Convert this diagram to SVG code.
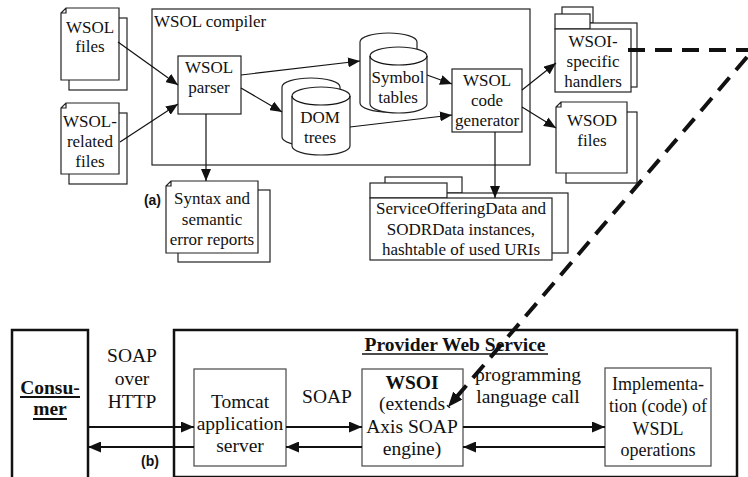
<svg xmlns="http://www.w3.org/2000/svg" width="748" height="477" viewBox="0 0 748 477">
<style>
.t{font-family:"Liberation Serif","DejaVu Serif","Times New Roman",serif;font-size:17px;fill:#111;text-anchor:middle}
.tb{font-family:"Liberation Serif","DejaVu Serif","Times New Roman",serif;font-size:19.5px;fill:#111;text-anchor:middle}
.bold{font-weight:bold}
.lab{font-family:"Liberation Sans",Arial,sans-serif;font-size:14px;font-weight:bold;fill:#111}
.sh{fill:#fff;stroke:#222;stroke-width:1.2}
.ln{fill:none;stroke:#111;stroke-width:1.2}
.lnb{fill:none;stroke:#111;stroke-width:1.8}
.thick{fill:none;stroke:#111;stroke-width:2.5}
.gbox{fill:#fff;stroke:#555;stroke-width:1.3}
</style>
<defs>
<marker id="ah" markerUnits="userSpaceOnUse" markerWidth="12" markerHeight="10" refX="12" refY="5" orient="auto"><path d="M0,0 L12,5 L0,10 Z" fill="#111"/></marker>
<marker id="ahb" markerUnits="userSpaceOnUse" markerWidth="13" markerHeight="11" refX="13" refY="5.5" orient="auto"><path d="M0,0 L13,5.5 L0,11 Z" fill="#111"/></marker>
<marker id="ahd" markerUnits="userSpaceOnUse" markerWidth="15" markerHeight="12" refX="15" refY="6" orient="auto"><path d="M0,0 L15,6 L0,12 Z" fill="#111"/></marker>
</defs>

<!-- (a) -->
<g id="compiler">
<rect x="152" y="9" width="378" height="156" class="sh"/>
<text x="154" y="27" class="t" style="text-anchor:start">WSOL compiler</text>
</g>

<g id="wsol-files">
<rect x="69" y="18" width="58" height="72" class="sh"/>
<path d="M66,8 L119,8 L119,80 L61,80 L61,13 Z M61,13 L66,13 L66,8" class="sh"/>
<text x="90" y="33" class="t">WSOL</text>
<text x="90" y="52" class="t">files</text>
</g>

<g id="wsol-related">
<rect x="69" y="113" width="58" height="71" class="sh"/>
<path d="M66,103 L119,103 L119,174 L61,174 L61,108 Z M61,108 L66,108 L66,103" class="sh"/>
<text x="90" y="127" class="t">WSOL-</text>
<text x="90" y="147" class="t">related</text>
<text x="90" y="167" class="t">files</text>
</g>

<g id="parser">
<rect x="178" y="56" width="63" height="58" class="sh"/>
<text x="209" y="73" class="t">WSOL</text>
<text x="209" y="93" class="t">parser</text>
</g>

<g id="symbol-tables">
<path d="M360,42 A28.5,9 0 0 1 417,42 L417,103 A28.5,9 0 0 1 360,103 Z" class="sh"/>
<path d="M370,56 A28.5,9 0 0 1 427,56 L427,104 A28.5,9 0 0 1 370,104 Z" class="sh"/>
<path d="M370,56 A28.5,9 0 0 0 427,56" class="ln"/>
<text x="398" y="83" class="t">Symbol</text>
<text x="398" y="103" class="t">tables</text>
</g>

<g id="dom-trees">
<path d="M282,87 A29,9 0 0 1 340,87 L340,137 A29,9 0 0 1 282,137 Z" class="sh"/>
<path d="M292,96 A29,9 0 0 1 350,96 L350,146 A29,9 0 0 1 292,146 Z" class="sh"/>
<path d="M292,96 A29,9 0 0 0 350,96" class="ln"/>
<text x="320" y="123" class="t">DOM</text>
<text x="320" y="143" class="t">trees</text>
</g>

<g id="codegen">
<rect x="452" y="69" width="70" height="63" class="sh"/>
<text x="487" y="86" class="t">WSOL</text>
<text x="487" y="106" class="t">code</text>
<text x="487" y="126" class="t">generator</text>
</g>

<g id="handlers">
<rect x="562" y="7" width="31" height="16" class="sh"/>
<rect x="562" y="23" width="75" height="64" class="sh"/>
<rect x="555" y="14" width="35" height="15" class="sh"/>
<rect x="555" y="29" width="76" height="63" class="sh"/>
<text x="593" y="47" class="t">WSOI-</text>
<text x="593" y="67" class="t">specific</text>
<text x="593" y="87" class="t">handlers</text>
</g>

<g id="wsod-files">
<rect x="566" y="112" width="71" height="71" class="sh"/>
<path d="M561,102 L627,102 L627,173 L556,173 L556,107 Z M556,107 L561,107 L561,102" class="sh"/>
<text x="592" y="126" class="t">WSOD</text>
<text x="592" y="146" class="t">files</text>
</g>

<g id="syntax-reports">
<rect x="178" y="190" width="92" height="72" class="sh"/>
<path d="M171,181 L258,181 L258,253 L166,253 L166,186 Z M166,186 L171,186 L171,181" class="sh"/>
<text x="212" y="204" class="t">Syntax and</text>
<text x="212" y="225" class="t">semantic</text>
<text x="212" y="245" class="t">error reports</text>
</g>

<g id="service-data">
<rect x="385" y="177" width="77" height="16" class="sh"/>
<rect x="385" y="193" width="183" height="60" class="sh"/>
<rect x="370" y="183" width="77" height="15" class="sh"/>
<rect x="370" y="198" width="182" height="62" class="sh"/>
<text x="461" y="214" class="t">ServiceOfferingData and</text>
<text x="461" y="235" class="t">SODRData instances,</text>
<text x="461" y="255" class="t">hashtable of used URIs</text>
</g>

<text x="161" y="205" class="lab" style="text-anchor:end">(a)</text>

<!-- (b) -->
<g id="consumer">
<rect x="12" y="330" width="76" height="150" class="thick"/>
<text x="50" y="394" class="tb bold">Consu-</text>
<line x1="20" y1="397" x2="80" y2="397" stroke="#111" stroke-width="1.8"/>
<text x="50" y="415" class="tb bold">mer</text>
<line x1="33" y1="419" x2="67" y2="419" stroke="#111" stroke-width="1.8"/>
</g>

<g id="provider">
<rect x="174" y="330" width="563" height="147" class="thick"/>
<text x="455" y="351" class="tb bold">Provider Web Service</text>
<line x1="362" y1="354" x2="548" y2="354" stroke="#111" stroke-width="1.6"/>
</g>

<g id="tomcat">
<rect x="194" y="369" width="92" height="97" class="gbox"/>
<text x="240" y="408" class="tb">Tomcat</text>
<text x="240" y="430" class="tb">application</text>
<text x="240" y="452" class="tb">server</text>
</g>

<g id="wsoi">
<rect x="362" y="369" width="101" height="97" class="gbox"/>
<text x="412" y="389" class="tb bold">WSOI</text>
<text x="412" y="410" class="tb">(extends</text>
<text x="412" y="433" class="tb">Axis SOAP</text>
<text x="412" y="455" class="tb">engine)</text>
</g>

<g id="implementation">
<rect x="605" y="368" width="106" height="98" class="gbox"/>
<text x="658" y="390" class="tb" style="font-size:18px">Implementa-</text>
<text x="658" y="412" class="tb" style="font-size:18px">tion (code) of</text>
<text x="658" y="435" class="tb" style="font-size:18px">WSDL</text>
<text x="658" y="456" class="tb" style="font-size:18px">operations</text>
</g>

<g id="labels-b">
<text x="132" y="362" class="tb">SOAP</text>
<text x="132" y="385" class="tb">over</text>
<text x="132" y="408" class="tb">HTTP</text>
<text x="327" y="403" class="tb">SOAP</text>
<text x="528" y="381" class="tb">programming</text>
<text x="528" y="403" class="tb">language call</text>
<text x="150" y="466" class="lab" style="text-anchor:middle">(b)</text>
</g>

<g id="connectors">
<line x1="118" y1="42" x2="178" y2="85" class="ln" marker-end="url(#ah)"/>
<line x1="120" y1="142" x2="178" y2="104" class="ln" marker-end="url(#ah)"/>
<line x1="206" y1="114" x2="206" y2="181" class="ln" marker-end="url(#ah)"/>
<line x1="241" y1="75" x2="360" y2="61" class="ln" marker-end="url(#ah)"/>
<line x1="241" y1="88" x2="282" y2="112" class="ln" marker-end="url(#ah)"/>
<line x1="427" y1="75" x2="452" y2="84" class="ln" marker-end="url(#ah)"/>
<line x1="350" y1="127" x2="452" y2="115" class="ln" marker-end="url(#ah)"/>
<line x1="522" y1="90" x2="556" y2="63" class="ln" marker-end="url(#ah)"/>
<line x1="522" y1="107" x2="556" y2="128" class="ln" marker-end="url(#ah)"/>
<line x1="495" y1="132" x2="495" y2="198" class="ln" marker-end="url(#ah)"/>
<path d="M628,50 L748,50 M747,57 L448,407" fill="none" stroke="#111" stroke-width="4" stroke-dasharray="17,10" marker-end="url(#ahd)"/>
<line x1="88" y1="427" x2="194" y2="427" class="lnb" marker-end="url(#ahb)"/>
<line x1="194" y1="447" x2="88" y2="447" class="lnb" marker-end="url(#ahb)"/>
<line x1="286" y1="427" x2="362" y2="427" class="lnb" marker-end="url(#ahb)"/>
<line x1="362" y1="447" x2="286" y2="447" class="lnb" marker-end="url(#ahb)"/>
<line x1="463" y1="427" x2="605" y2="427" class="lnb" marker-end="url(#ahb)"/>
<line x1="605" y1="447" x2="463" y2="447" class="lnb" marker-end="url(#ahb)"/>
</g>
</svg>
